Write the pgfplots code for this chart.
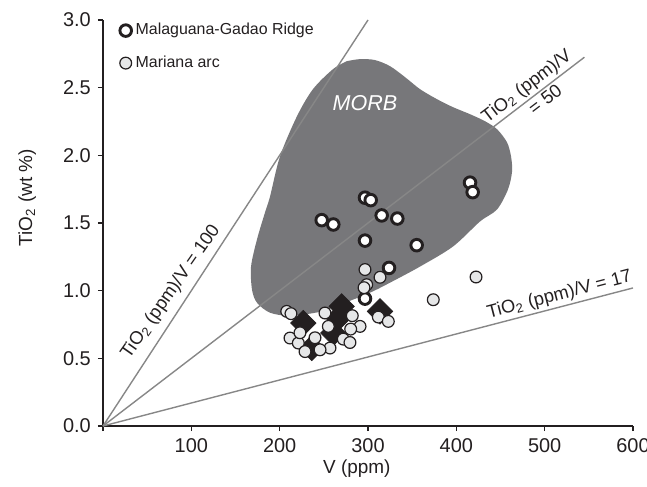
\documentclass[border=0pt]{standalone}
\usepackage{pgfplots}
\pgfplotsset{compat=1.18}
\usepackage{fontspec}
\setmainfont{Liberation Sans}
\definecolor{morb}{RGB}{119,119,122}
\definecolor{ratio}{RGB}{135,135,135}
\definecolor{arcfill}{RGB}{230,231,232}
\definecolor{ink}{RGB}{35,31,32}
\begin{document}
\begin{tikzpicture}
\begin{axis}[
  scale only axis, width=265bp, height=203bp,
  xmin=0, xmax=600, ymin=0, ymax=3,
  axis lines=left,
  axis line style={-, line width=0.75bp, ink},
  tick align=outside, major tick length=2.6bp,
  tick style={line width=0.75bp, ink},
  xtick={0,100,200,300,400,500,600},
  xticklabels={,100,200,300,400,500,600},
  ytick={0,0.5,1,1.5,2,2.5,3},
  y tick label style={/pgf/number format/.cd, fixed, fixed zerofill, precision=1},
  /pgf/number format/assume math mode=true,
  tick label style={font=\fontsize{10}{12}\selectfont, text=ink},
  xlabel={V (ppm)},
  ylabel={TiO\textsubscript{2} (wt \%)},
  label style={font=\fontsize{9.5}{11}\selectfont, text=ink},
  xlabel style={at={(axis description cs:0.479,-0.106)}, anchor=center},
  ylabel style={at={(axis description cs:-0.143,0.562)}, anchor=center},
  clip=false,
  legend style={draw=none, fill=none, at={(axis description cs:0.031,1.0026)}, anchor=north west,
    font=\fontsize{8}{10}\selectfont, row sep=5bp, inner sep=0pt, text=ink},
  legend cell align=left,
  legend image code/.code={\draw[mark repeat=2,mark phase=2,#1] plot coordinates {(0cm,0cm) (0.11cm,0cm) (0.255cm,0cm)};},
]
% MORB field
\addplot[fill=morb, draw=none, smooth, tension=0.5, forget plot] coordinates {
(276.2,2.696) (291.0,2.711) (307.9,2.704) (324.9,2.659) (341.9,2.578) (358.9,2.489)
(378.1,2.415) (396.2,2.356) (415.5,2.304) (432.5,2.252) (446.1,2.193) (457.4,2.096)
(461.9,1.993) (463.1,1.881) (458.5,1.748) (446.1,1.600) (426.8,1.511) (396.2,1.326)
(358.9,1.178) (324.9,1.059) (302.3,0.985) (274.0,0.911) (245.7,0.844) (211.7,0.815)
(189.1,0.837) (174.3,0.911) (168.7,1.007) (167.6,1.178) (174.3,1.378) (183.4,1.578)
(189.1,1.696) (200.4,1.993) (219.6,2.289) (237.7,2.489) (260.4,2.637) (276.2,2.696)};
% ratio lines
\addplot[ratio, line width=0.7bp, forget plot] coordinates {(0,0) (300,3.0)};
\addplot[ratio, line width=0.7bp, forget plot] coordinates {(0,0) (545,2.725)};
\addplot[ratio, line width=0.7bp, forget plot] coordinates {(0,0) (600,1.02)};
% black diamonds
\addplot[only marks, mark=square*, mark size=4.5bp, mark options={rotate=45, fill=ink, draw=ink, line width=0.3bp}, forget plot] coordinates {
(226.8,0.761) (236.3,0.576) (270.2,0.884) (260.7,0.687) (266.4,0.798) (313.6,0.847)};
% Malaguana-Gadao Ridge
\addplot[only marks, mark=*, mark size=2.9bp, mark options={fill=white, draw=ink, line width=1.45bp}] coordinates {
(296.6,1.687) (303.1,1.669) (247.6,1.521) (260.7,1.489) (315.5,1.556) (333.2,1.533)
(296.6,1.370) (355.1,1.336) (323.8,1.168) (415.5,1.798) (418.5,1.728) (296.6,0.941)};
\addlegendentry{Malaguana-Gadao Ridge}
% Mariana arc
\addplot[only marks, mark=*, mark size=2.95bp, mark options={fill=arcfill, draw=ink, line width=0.6bp}] coordinates {
(296.6,1.156) (313.6,1.099) (298.5,1.044) (295.5,1.022) (422.3,1.101) (373.9,0.933)
(208.0,0.847) (212.8,0.830) (251.3,0.835) (282.2,0.815) (291.0,0.736) (280.4,0.716)
(211.7,0.650) (221.1,0.613) (272.0,0.642) (279.6,0.617) (257.0,0.576) (245.7,0.563)
(228.7,0.550) (311.7,0.805) (323.0,0.773) (255.1,0.736) (223.0,0.689) (240.0,0.652)};
\addlegendentry{Mariana arc}
% labels
\node[rotate=55, anchor=south, inner sep=2.6bp, font=\fontsize{9.2}{11}\selectfont, text=ink] at (axis cs:90,0.93) {TiO\textsubscript{2} (ppm)/V = 100};
\node[rotate=37.4, anchor=south, inner sep=1.2bp, font=\fontsize{9.2}{11}\selectfont, text=ink] at (axis cs:488,2.44) {TiO\textsubscript{2} (ppm)/V};
\node[rotate=37.4, anchor=north, inner sep=1.2bp, font=\fontsize{9.2}{11}\selectfont, text=ink] at (axis cs:494,2.47) {= 50};
\node[rotate=14.6, anchor=south, inner sep=1.2bp, font=\fontsize{9.2}{11}\selectfont, text=ink] at (axis cs:520,0.885) {TiO\textsubscript{2} (ppm)/V = 17};
\node[font=\fontsize{10.8}{12}\selectfont\itshape, text=white] at (axis cs:296.6,2.385) {MORB};
\end{axis}
\pgfresetboundingbox
\path[use as bounding box] (-51.5bp,-30.5bp) rectangle (272bp,213bp);
\end{tikzpicture}
\end{document}
